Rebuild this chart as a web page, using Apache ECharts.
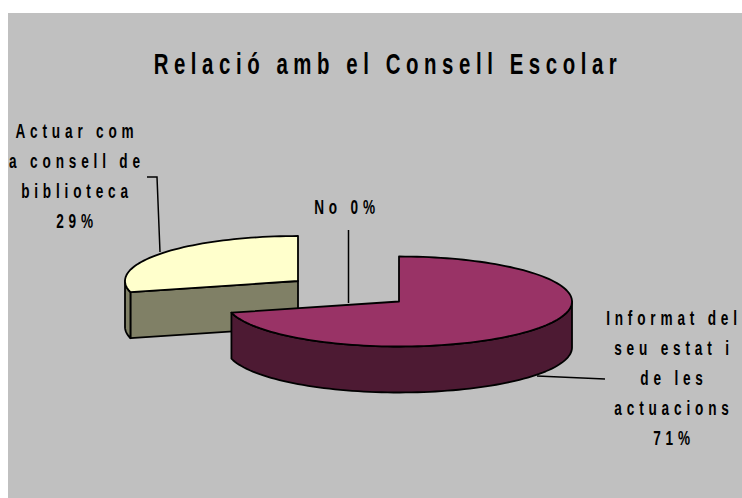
<!DOCTYPE html>
<html><head><meta charset="utf-8">
<style>
html,body{margin:0;padding:0;background:#fff}
#c{width:742px;height:498px}
#c text{letter-spacing:7.1px}
#c text[style*="30px"]{letter-spacing:8.2px}
</style>
<script src="https://cdn.jsdelivr.net/npm/echarts@6/dist/echarts.min.js"></script>
</head><body><div id="c"></div>
<script>
const titleText = 'Relació amb el Consell Escolar';
const categories = ['Informat del seu estat i de les actuacions', 'No', 'Actuar com a consell de biblioteca'];
const values = [71, 0, 29];
const labelLines = [
  ['Informat del', 'seu estat i', 'de les', 'actuacions'],
  ['No'],
  ['Actuar com', 'a consell de', 'biblioteca']
];
const topColors = ['#993366', '#993366', '#FFFFCC'];
const wallColors = ['#4D1A33', '#4D1A33', '#808066'];
const centers = [[399, 301.5], [399, 301.5], [298, 281]];
const labelPos = [[674, 319], [347, 208], [77, 132]];
const leaders = [
  [[537, 376], [605, 379]],
  [[348.5, 230], [348.5, 303]],
  [[147, 177], [157, 177], [160, 252]]
];
const RX = 173, RY = 45, DEPTH = 46, FONT = '"Liberation Sans",Arial,sans-serif', NARROW = 0.68;
const total = values.reduce((a, b) => a + b, 0);
const rad = d => d * Math.PI / 180;
function pt(c, a, dy) { return [c[0] + RX * Math.sin(rad(a)), c[1] - RY * Math.cos(rad(a)) + (dy || 0)]; }
function arc(c, a, b, dy) { const n = Math.max(2, Math.ceil(Math.abs(b - a) / 2)), r = []; for (let i = 0; i <= n; i++) r.push(pt(c, a + (b - a) * i / n, dy)); return r; }
const edge = { stroke: '#000', lineWidth: 1.8, lineJoin: 'round' };
function renderItem(params, api) {
  const i = params.dataIndex, v = api.value(0);
  let start = 0;
  for (let k = 0; k < i; k++) start += values[k] / total * 360;
  const end = start + v / total * 360, c = centers[i], kids = [];
  const z2 = i === 0 ? 10 : 1;
  const poly = (points, fill) => kids.push({ type: 'polygon', z2, shape: { points }, style: Object.assign({ fill }, edge) });
  if (v > 0) {
    [[start, Math.sin(rad(start)) < -1e-6], [end, Math.sin(rad(end)) > 1e-6]].forEach(f => {
      if (f[1]) { const p = pt(c, f[0]), q = [c[0], c[1]]; poly([q, p, [p[0], p[1] + DEPTH], [q[0], q[1] + DEPTH]], wallColors[i]); }
    });
    const a = Math.max(start, 90), b = Math.min(end, 270);
    if (b > a) poly(arc(c, a, b, 0).concat(arc(c, b, a, DEPTH)), wallColors[i]);
    poly([[c[0], c[1]]].concat(arc(c, start, end, 0)), topColors[i]);
  }
  return { type: 'group', children: kids };
}
const pctText = i => Math.round(values[i] / total * 100) + '%';
const labelGraphics = categories.map((name, i) => {
  const multi = labelLines[i].length > 1;
  return {
    type: 'text', x: labelPos[i][0], y: labelPos[i][1] - 15, scaleX: NARROW, z: 20,
    style: {
      text: multi ? labelLines[i].concat(pctText(i)).join('\n') : labelLines[i][0] + ' ' + pctText(i),
      font: 'bold 20px ' + FONT, lineHeight: 30, fill: '#000', align: 'center', verticalAlign: 'top'
    }
  };
});
const leaderGraphics = leaders.map(points => ({
  type: 'polyline', z: 15, shape: { points }, style: { stroke: '#000', lineWidth: 1.5, fill: 'none' }
}));
const titleGraphic = { type: 'text', x: 388, y: 45, scaleX: NARROW, z: 20,
  style: { text: titleText, font: 'bold 30px ' + FONT, lineHeight: 36, fill: '#000', align: 'center', verticalAlign: 'top' } };
const chart = echarts.init(document.getElementById('c'), null, { renderer: 'svg' });
chart.setOption({
  animation: false,
  backgroundColor: '#fff',
  graphic: [{ type: 'rect', z: -10, shape: { x: 8, y: 13, width: 734, height: 485 }, style: { fill: '#C0C0C0' } }, titleGraphic]
    .concat(leaderGraphics, labelGraphics),
  series: [{ type: 'custom', coordinateSystem: 'none', renderItem, z: 5, silent: true,
    data: values.map((v, i) => ({ name: categories[i], value: [v] })) }]
});
</script></body></html>
